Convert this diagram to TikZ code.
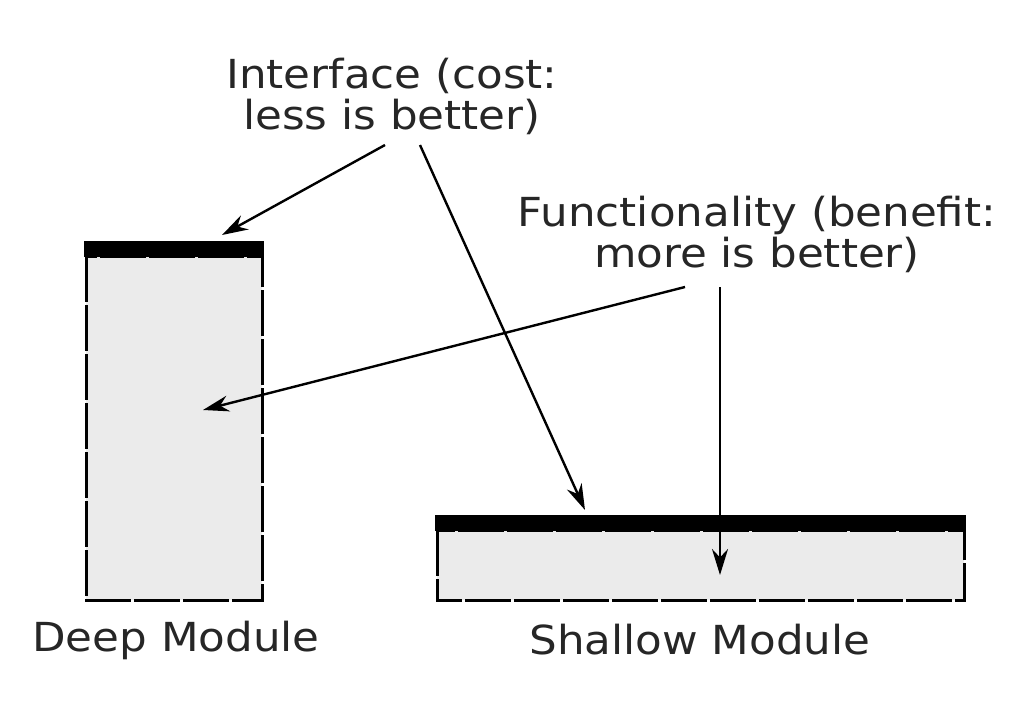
\documentclass[tikz,border=0pt]{standalone}
\usepackage{fontspec}
\setmainfont[FakeStretch=1.09]{DejaVu Sans}
\usetikzlibrary{arrows.meta}
\begin{document}
\begin{tikzpicture}[x=1pt,y=-1pt,
  lbl/.style={font=\fontsize{40}{41}\selectfont,align=center,inner sep=0pt,text=black!85},
  box/.style={fill=black!8,draw=black,line width=3pt,dash pattern=on 46pt off 3pt},
  bar/.style={fill=black},
  arr/.style={line width=2.4pt,-{Stealth[length=26pt,width=16pt]}}]
\useasboundingbox (0,0) rectangle (1036,709);
\draw[box] (86,256) rectangle (262,600);
\fill[bar] (84,241) rectangle (264,257);
\draw[box] (437,530) rectangle (964,600);
\fill[bar] (435,515) rectangle (966,531);
\node[lbl] (iface) at (392,96) {Interface (cost:\\less is better)};
\node[lbl] (func) at (757,234) {Functionality (benefit:\\more is better)};
\node[lbl] (deep) at (176,640) {Deep Module};
\node[lbl] (shallow) at (700,640) {Shallow Module};
\coordinate (a1) at (385,145); \coordinate (t1) at (222,235);
\coordinate (a2) at (420,145); \coordinate (t2) at (585,510);
\coordinate (a3) at (685,287); \coordinate (t3) at (203,410);
\coordinate (a4) at (720,287); \coordinate (t4) at (720,575);
\draw[arr] (a1) -- (t1);
\draw[arr] (a2) -- (t2);
\draw[arr] (a3) -- (t3);
\draw[arr] (a4) -- (t4);
\end{tikzpicture}
\end{document}
